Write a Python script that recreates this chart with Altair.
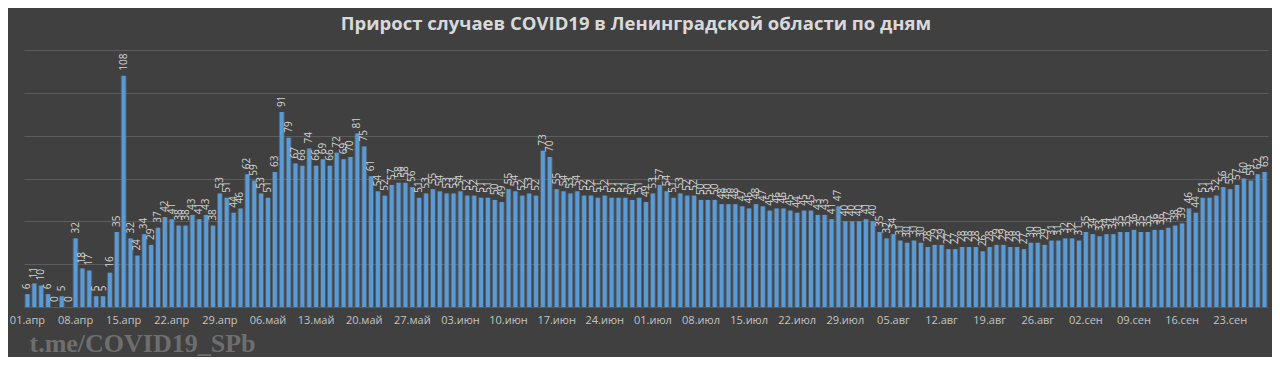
import altair as alt
import pandas as pd

title_text = "Прирост случаев COVID19 в Ленинградской области по дням"
watermark = "t.me/COVID19_SPb"
start_date = "2020-04-01"
month_names = {4: "апр", 5: "май", 6: "июн", 7: "июл", 8: "авг", 9: "сен"}

cases = [
    6, 11, 10, 6, 0, 5, 0, 32, 18, 17, 5, 5, 16, 35, 108, 32, 24, 34, 29, 37,
    42, 41, 38, 38, 43, 41, 43, 38, 53, 51, 44, 46, 62, 59, 53, 51, 63, 91, 79, 67,
    66, 74, 66, 69, 66, 72, 69, 70, 81, 75, 61, 54, 52, 57, 58, 58, 56, 51, 53, 55,
    54, 53, 53, 54, 52, 52, 51, 51, 50, 49, 55, 54, 52, 53, 52, 73, 70, 55, 54, 53,
    54, 52, 52, 51, 52, 51, 51, 51, 50, 51, 49, 53, 57, 54, 51, 53, 52, 52, 50, 50,
    50, 48, 48, 48, 47, 46, 48, 47, 45, 46, 46, 45, 44, 45, 45, 43, 43, 41, 47, 40,
    40, 40, 41, 40, 35, 32, 34, 31, 30, 31, 30, 28, 29, 29, 27, 27, 28, 28, 28, 26,
    28, 29, 29, 28, 28, 27, 30, 30, 29, 31, 31, 32, 32, 31, 35, 34, 33, 34, 34, 35,
    35, 36, 35, 35, 36, 36, 37, 38, 39, 46, 44, 51, 51, 52, 56, 55, 57, 60, 59, 62,
    63,
]

dates = pd.date_range(start_date, periods=len(cases), freq="D")
day_labels = [f"{d.day:02d}.{month_names[d.month]}" for d in dates]
tick_labels = day_labels[::7]
grid_values = [0, 20, 40, 60, 80, 100, 120]

df = pd.DataFrame({"day": day_labels, "cases": cases})

x_enc = alt.X(
    "day:N",
    sort=day_labels,
    scale=alt.Scale(paddingInner=0, paddingOuter=0),
    axis=alt.Axis(
        values=tick_labels,
        labelAngle=0,
        ticks=False,
        domain=False,
        grid=False,
        labelColor="#c3c3c3",
        labelFont="Open Sans",
        labelFontSize=11,
        labelPadding=7,
        title=watermark,
        titleFont="Liberation Serif",
        titleFontSize=26,
        titleFontWeight="bold",
        titleColor="#6e6e6e",
        titleX=5,
        titleY=44,
        titleAlign="left",
        titleAnchor="start",
        titleBaseline="alphabetic",
        titleAngle=0,
    ),
)
y_enc = alt.Y(
    "cases:Q",
    scale=alt.Scale(domain=[0, 120], nice=False),
    axis=alt.Axis(
        values=grid_values,
        labels=False,
        ticks=False,
        domain=False,
        grid=True,
        gridColor="#5c5c5c",
        gridWidth=1,
        title=None,
    ),
)

base = alt.Chart(df)

glow = base.mark_bar(
    width=alt.RelativeBandSize(0.84), color="#7db4e8", opacity=0.28
).encode(x=x_enc, y=y_enc)

bars = base.mark_bar(
    width=alt.RelativeBandSize(0.56), color="#5b9bd5"
).encode(x=x_enc, y=y_enc)

labels = base.mark_text(
    angle=270,
    align="left",
    baseline="middle",
    dx=5,
    font="Open Sans",
    fontSize=10,
    color="#d2d2d2",
).encode(x=x_enc, y=y_enc, text="cases:Q")

chart = (
    alt.layer(glow, bars, labels)
    .properties(
        width=1244,
        height=257,
        padding={"left": 16, "top": 42, "right": 4, "bottom": 50},
        autosize=alt.AutoSizeParams(type="none"),
        background="#404040",
        title=alt.TitleParams(
            title_text,
            font="Open Sans",
            fontSize=18.5,
            fontWeight="bold",
            color="#d9d9d9",
            anchor="middle",
            offset=17,
            dx=-10,
        ),
    )
    .configure_view(stroke=None)
)

chart.save("out.html", embed_options={"renderer": "svg", "actions": False})
